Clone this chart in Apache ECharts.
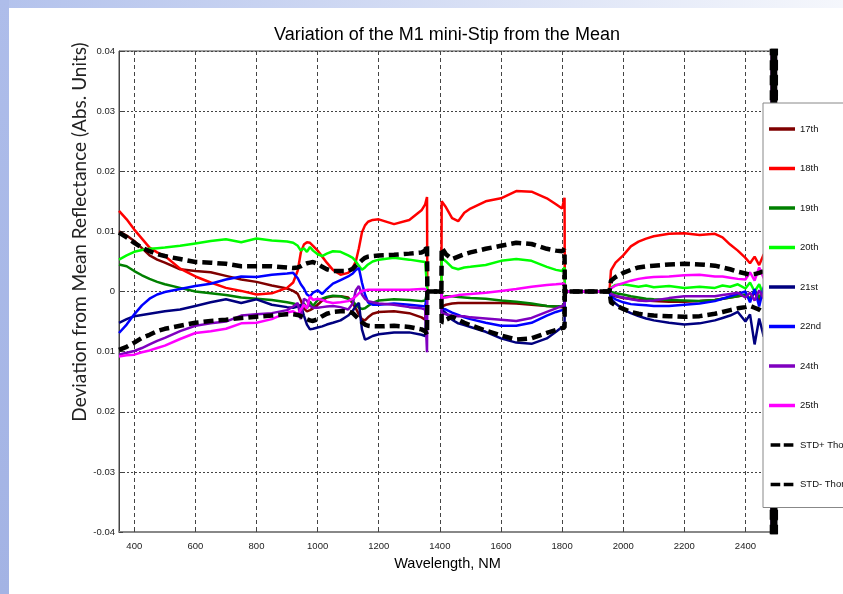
<!DOCTYPE html>
<html><head><meta charset="utf-8">
<script src="https://cdn.jsdelivr.net/npm/echarts@6/dist/echarts.min.js"></script>
<style>html,body{margin:0;padding:0;background:#fff}#c{width:843px;height:594px}</style>
</head><body><div id="c"></div>
<script>
// ---- data ----
const wl = [350,375,400,425,450,475,500,550,600,650,
  700,750,800,850,900,920,935,945,955,965,
  975,985,1000,1015,1030,1050,1075,1100,1115,1125,
  1135,1145,1155,1165,1180,1200,1250,1300,1340,1352,
  1358,1359,1405,1406,1420,1440,1460,1480,1500,1550,
  1600,1650,1700,1750,1780,1800,1808,1809,1955,1960,
  1975,2000,2025,2050,2075,2100,2150,2200,2250,2300,
  2325,2350,2375,2400,2415,2430,2445,2460,2470,2480,
  2486,2488,2490,2492,2494,2496,2498,2500];

const s17 = [.0100,.0093,.0084,.0072,.0060,.0053,.0048,.0037,.0034,.0032,
  .0026,.0020,.0016,.0010,.0005,.0001,-.0004,-.0015,-.0028,-.0033,
  -.0031,-.0028,-.0022,-.0015,-.0010,-.0008,-.0008,-.0010,-.0020,-.0028,
  -.0038,-.0046,-.0048,-.0043,-.0037,-.0034,-.0033,-.0036,-.0043,-.0047,
  -.0050,0,0,-.0025,-.0022,-.0020,-.0019,-.0019,-.0019,-.0019,
  -.0019,-.0020,-.0022,-.0024,-.0025,-.0026,-.0026,0,0,-.0005,
  -.0008,-.0011,-.0012,-.0014,-.0015,-.0016,-.0017,-.0017,-.0016,-.0014,
  -.0012,-.0010,-.0008,-.0006,-.0012,-.0002,-.0015,.0002,-.0010,-.0004,
  -.0012,-.1,.1,-.1,.1,-.1,.1,-.1];
const s18 = [.0134,.0120,.0103,.0088,.0073,.0065,.0059,.0038,.0025,.0015,
  .0006,.0001,-.0005,-.0003,.0006,.0015,.0035,.0065,.0078,.0082,
  .0081,.0076,.0068,.0058,.0048,.0036,.0028,.0031,.0040,.0050,
  .0072,.0098,.0110,.0116,.0119,.0120,.0112,.0119,.0135,.0145,
  .0157,0,0,.0150,.0140,.0122,.0117,.0131,.0138,.0150,
  .0155,.0167,.0166,.0155,.0145,.0138,.0156,0,0,.0035,
  .0048,.0060,.0075,.0083,.0088,.0092,.0096,.0097,.0094,.0096,
  .0090,.0078,.0068,.0056,.0047,.0058,.0044,.0062,.0040,.0058,
  .0045,.1,-.1,.1,-.1,.1,-.1,.1];
const s19 = [.0045,.0042,.0034,.0027,.0021,.0016,.0012,.0006,.0000,-.0003,
  -.0006,-.0010,-.0012,-.0014,-.0018,-.0020,-.0022,-.0026,-.0020,-.0028,
  -.0017,-.0024,-.0014,-.0012,-.0009,-.0007,-.0008,-.0012,-.0016,-.0022,
  -.0027,-.0029,-.0028,-.0024,-.0019,-.0015,-.0013,-.0014,-.0016,-.0015,
  -.0014,0,0,-.0010,-.0008,-.0008,-.0009,-.0010,-.0011,-.0012,
  -.0015,-.0017,-.0020,-.0024,-.0025,-.0024,-.0022,0,0,-.0002,
  -.0003,-.0005,-.0008,-.0010,-.0012,-.0013,-.0014,-.0015,-.0016,-.0014,
  -.0012,-.0010,-.0008,-.0005,-.0012,.0002,-.0010,.0005,-.0015,.0000,
  -.0008,.1,-.1,.1,-.1,.1,-.1,.1];
const s20 = [.0053,.0060,.0066,.0069,.0071,.0072,.0073,.0076,.0080,.0084,
  .0087,.0082,.0088,.0085,.0083,.0081,.0076,.0068,.0072,.0066,
  .0074,.0068,.0062,.0059,.0063,.0067,.0066,.0060,.0056,.0050,
  .0043,.0036,.0040,.0045,.0050,.0053,.0056,.0053,.0050,.0049,
  .0048,0,0,.0056,.0050,.0040,.0037,.0040,.0041,.0044,
  .0051,.0054,.0051,.0041,.0036,.0034,.0040,0,0,.0006,
  .0011,.0012,.0010,.0008,.0010,.0007,.0009,.0006,.0008,.0006,
  .0010,.0008,.0012,.0005,.0015,.0000,.0012,-.0008,.0015,.0003,
  .0010,-.1,.1,-.1,.1,-.1,.1,-.1];
const s21 = [-.0052,-.0046,-.0041,-.0039,-.0037,-.0035,-.0033,-.0030,-.0024,-.0018,
  -.0013,-.0019,-.0013,-.0022,-.0026,-.0027,-.0025,-.0022,-.0040,-.0055,
  -.0063,-.0062,-.0060,-.0058,-.0055,-.0052,-.0048,-.0040,-.0032,-.0024,
  -.0019,-.0063,-.0080,-.0078,-.0074,-.0071,-.0068,-.0068,-.0072,-.0074,
  -.0076,0,0,-.0030,-.0036,-.0047,-.0053,-.0056,-.0059,-.0067,
  -.0078,-.0085,-.0087,-.0078,-.0067,-.0059,-.0056,0,0,-.0012,
  -.0020,-.0030,-.0036,-.0041,-.0045,-.0048,-.0052,-.0055,-.0053,-.0048,
  -.0044,-.0040,-.0034,-.0050,-.0038,-.0088,-.0045,-.0075,-.0040,-.0082,
  -.0050,.1,-.1,.1,-.1,.1,-.1,.1];
const s22 = [-.0069,-.0055,-.0038,-.0023,-.0012,-.0005,-.0001,.0004,.0009,.0013,
  .0020,.0025,.0024,.0028,.0030,.0031,.0022,.0012,.0005,-.0005,
  -.0008,-.0002,.0002,-.0004,.0004,.0013,.0019,.0025,.0030,.0036,
  .0039,.0015,-.0005,-.0018,-.0022,-.0022,-.0020,-.0022,-.0024,-.0025,
  -.0026,0,0,-.0028,-.0030,-.0035,-.0039,-.0043,-.0046,-.0052,
  -.0057,-.0057,-.0052,-.0040,-.0034,-.0031,-.0030,0,0,-.0008,
  -.0013,-.0018,-.0021,-.0022,-.0023,-.0024,-.0024,-.0022,-.0020,-.0016,
  -.0012,-.0008,-.0004,.0000,-.0018,.0004,-.0025,.0008,-.0020,-.0005,
  -.0015,-.1,.1,-.1,.1,-.1,.1,-.1];
const s24 = [-.0105,-.0102,-.0099,-.0094,-.0088,-.0082,-.0077,-.0066,-.0057,-.0053,
  -.0050,-.0040,-.0038,-.0036,-.0031,-.0025,-.0019,-.0046,-.0012,-.0015,
  -.0024,-.0027,-.0027,-.0026,-.0025,-.0024,-.0026,-.0030,-.0020,.0002,
  .0009,-.0005,-.0012,-.0016,-.0018,-.0020,-.0022,-.0026,-.0028,-.0030,
  -.0101,0,0,-.0035,-.0038,-.0040,-.0041,-.0041,-.0043,-.0045,
  -.0047,-.0049,-.0044,-.0034,-.0028,-.0024,-.0023,0,0,-.0004,
  -.0007,-.0010,-.0013,-.0015,-.0016,-.0015,-.0011,-.0008,-.0008,-.0008,
  -.0006,-.0004,-.0002,-.0010,-.0002,-.0015,.0002,-.0012,-.0003,-.0014,
  -.0005,.1,-.1,.1,-.1,.1,-.1,.1];
const s25 = [-.0108,-.0106,-.0105,-.0101,-.0098,-.0094,-.0090,-.0079,-.0069,-.0066,
  -.0062,-.0053,-.0052,-.0046,-.0035,-.0033,-.0038,-.0030,-.0022,-.0028,
  -.0008,-.0014,-.0012,-.0014,-.0017,-.0019,-.0018,-.0016,-.0012,-.0008,
  -.0003,.0001,.0002,.0003,.0003,.0003,.0003,.0003,.0004,.0004,
  .0004,0,0,-.0011,-.0010,-.0008,-.0006,-.0005,-.0004,-.0002,
  .0001,.0004,.0008,.0011,.0012,.0013,.0013,0,0,.0005,
  .0010,.0014,.0018,.0021,.0023,.0024,.0025,.0027,.0028,.0025,
  .0025,.0023,.0021,.0020,.0032,.0018,.0040,.0022,.0055,.0025,
  .0035,-.1,.1,-.1,.1,-.1,.1,-.1];
const stdPlus = [.0098,.0090,.0081,.0073,.0067,.0062,.0059,.0054,.0049,.0048,
  .0046,.0042,.0042,.0042,.0040,.0039,.0040,.0042,.0045,.0047,
  .0048,.0049,.0046,.0041,.0037,.0034,.0034,.0034,.0038,.0043,
  .0047,.0052,.0056,.0058,.0059,.0060,.0061,.0063,.0065,.0068,
  .0078,0,0,.0073,.0062,.0054,.0058,.0062,.0065,.0071,
  .0076,.0081,.0079,.0071,.0068,.0067,.0070,0,0,.0018,
  .0024,.0031,.0036,.0040,.0042,.0043,.0045,.0046,.0045,.0043,
  .0040,.0037,.0033,.0030,.0028,.0029,.0031,.0034,.0030,.0038,
  .0033,.1,-.1,.1,-.1,.1,-.1,.1];
const stdMinus = [-.0097,-.0092,-.0085,-.0077,-.0072,-.0066,-.0062,-.0057,-.0052,-.0049,
  -.0047,-.0044,-.0042,-.0040,-.0038,-.0038,-.0039,-.0041,-.0043,-.0046,
  -.0048,-.0049,-.0046,-.0041,-.0037,-.0034,-.0033,-.0033,-.0036,-.0041,
  -.0046,-.0051,-.0055,-.0057,-.0058,-.0058,-.0057,-.0059,-.0063,-.0066,
  -.0072,0,0,-.0052,-.0047,-.0042,-.0047,-.0052,-.0056,-.0065,
  -.0073,-.0080,-.0078,-.0069,-.0064,-.0061,-.0060,0,0,-.0018,
  -.0023,-.0029,-.0034,-.0037,-.0039,-.0040,-.0041,-.0042,-.0041,-.0037,
  -.0034,-.0031,-.0028,-.0026,-.0024,-.0027,-.0030,-.0035,-.0031,-.0038,
  -.0033,-.1,.1,-.1,.1,-.1,.1,-.1];

const seriesNames = ['17th','18th','19th','20th','21st','22nd','24th','25th','STD+ Thome','STD- Thome'];
const seriesValues = [s17,s18,s19,s20,s21,s22,s24,s25,stdPlus,stdMinus];
const xTicks = [400,600,800,1000,1200,1400,1600,1800,2000,2200,2400];
const yTicks = [-0.04,-0.03,-0.02,-0.01,0,0.01,0.02,0.03,0.04];
const yTickLabels = ['-0.04','-0.03','0.02','0.01','0','0.01','0.02','0.03','0.04'];

// ---- styles ----
const colors = ['#7f0000','#ff0000','#008000','#00ff00','#00007f','#0000ff','#7f00bf','#ff00ff','#000000','#000000'];
const FONT = "'Liberation Sans',Arial,sans-serif";
const DASH_ICON = 'path://M0,0h11v4h-11z M15,0h11v4h-11z';

const chart = echarts.init(document.getElementById('c'), null, {renderer:'canvas'});
const series = seriesNames.map((n,k)=>{
  const isStd = k>=8;
  return {
    name:n, type:'line', symbol:'none', showSymbol:false, animation:false, clip:true,
    data: wl.map((x,i)=>[x, seriesValues[k][i]]),
    lineStyle:{color:colors[k], width: isStd?4.5:2.5, type: isStd?[10,5]:'solid'},
    itemStyle:{color:colors[k]},
    z: 2
  };
});

chart.setOption({
  backgroundColor:'#ffffff',
  animation:false,
  title:{text:'Variation of the M1 mini-Stip from the Mean', left:442, top:21, textAlign:'center',
    textStyle:{fontFamily:FONT, fontSize:18, fontWeight:'normal', color:'#000'}},
  grid:{left:119, top:51, width:657, height:481, show:true, borderColor:'#444', borderWidth:1, backgroundColor:'transparent'},
  xAxis:{type:'value', min:350, max:2500,
    name:'Wavelength, NM', nameLocation:'middle', nameGap:24,
    nameTextStyle:{fontFamily:FONT, fontSize:14.5, color:'#000'},
    axisLine:{show:true, onZero:false, lineStyle:{color:'#888', width:2}},
    axisTick:{show:true, inside:true, length:4, customValues:xTicks, lineStyle:{color:'#444'}},
    axisLabel:{customValues:xTicks, fontFamily:FONT, fontSize:9.5, color:'#222', margin:9,
      formatter:(v)=>String(Math.round(v))},
    splitLine:{show:true, lineStyle:{color:'#444', type:[4,3], width:1}}
  },
  yAxis:{type:'value', min:-0.04, max:0.04, interval:0.01,
    axisLine:{show:true, lineStyle:{color:'#444', width:1}},
    axisTick:{show:true, inside:true, length:4, lineStyle:{color:'#444'}},
    axisLabel:{fontFamily:FONT, fontSize:9.5, color:'#222', margin:4,
      formatter:(v)=>{ const i = yTicks.findIndex(t=>Math.abs(t-v)<1e-9); return i>=0?yTickLabels[i]:''; }},
    splitLine:{show:true, lineStyle:{color:'#444', type:[2,2], width:1}}
  },
  legend:{data:seriesNames.map((n,k)=>({name:n, icon: k>=8?DASH_ICON:'rect'})),
    orient:'vertical', left:763, top:103, itemWidth:26, itemHeight:3.5, itemGap:25.5,
    padding:[19,40,16,6], backgroundColor:'#fff', borderColor:'#888', borderWidth:1, selectedMode:false,
    textStyle:{fontFamily:FONT, fontSize:9.5, color:'#111', lineHeight:14}},
  graphic:[
    {type:'rect', z:-100, silent:true, shape:{x:0,y:0,width:843,height:8},
      style:{fill:new echarts.graphic.LinearGradient(0,0,1,0,[{offset:0,color:'#b3c2ec'},{offset:1,color:'#f5f7fc'}])}},
    {type:'rect', z:-100, silent:true, shape:{x:0,y:0,width:9,height:594},
      style:{fill:new echarts.graphic.LinearGradient(0,0,0,1,[{offset:0,color:'#aebdea'},{offset:1,color:'#a3b3e4'}])}},
    {type:'text', x:80, y:232, rotation:Math.PI/2, silent:true,
      style:{text:'Deviation from Mean Reflectance (Abs. Units)', align:'center', verticalAlign:'middle',
        fontFamily:'Lato,sans-serif', fontSize:19, fill:'#222'}}
  ],
  series: series
});
</script></body></html>
